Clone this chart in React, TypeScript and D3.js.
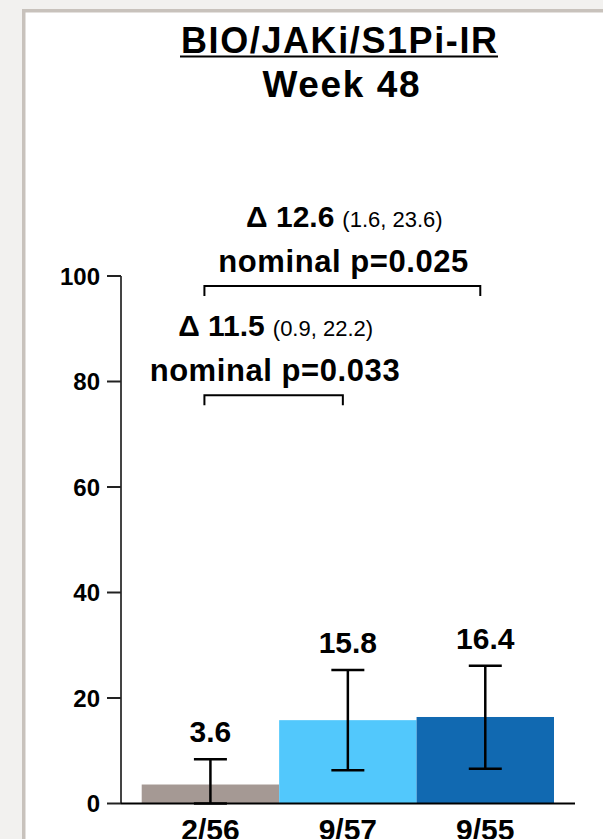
import React from "react";
import * as d3 from "d3";

const categories = ["2/56", "9/57", "9/55"];
const values = [3.6, 15.8, 16.4];
const ciLower = [0, 6.3, 6.6];
const ciUpper = [8.4, 25.3, 26.1];
const barColors = ["#a59994", "#52c8fc", "#1169b1"];
const yTicks = [0, 20, 40, 60, 80, 100];
const compFrom = [0, 0];
const compTo = [2, 1];
const compLevel = [98.1, 77.4];
const compDelta = ["Δ 12.6", "Δ 11.5"];
const compCI = ["(1.6, 23.6)", "(0.9, 22.2)"];
const compP = ["nominal p=0.025", "nominal p=0.033"];
const title1 = "BIO/JAKi/S1Pi-IR";
const title2 = "Week 48";

const W = 603;
const H = 839;
const FONT = "'Liberation Sans', Arial, Helvetica, sans-serif";

export default function App() {
  const x = d3.scaleBand<string>().domain(categories).range([141.7, 554]).padding(0);
  const y = d3.scaleLinear().domain([0, 100]).range([803.5, 276]);
  const cx = (i: number) => (x(categories[i]) as number) + x.bandwidth() / 2;
  const cap = 16.5;

  return (
    <div style={{ position: "absolute", left: 0, top: 0 }}>
      <svg width={W} height={H} style={{ display: "block" }} fontFamily={FONT}>
        <rect x={0} y={0} width={W} height={H} fill="#f2f1ef" />
        <rect x={22} y={9} width={W} height={H} fill="#c8c2bc" />
        <rect x={25.5} y={12.5} width={W} height={H} fill="#ffffff" />

        {/* title */}
        <text
          x={339}
          y={53}
          textAnchor="middle"
          fontSize={36}
          fontWeight="bold"
          fill="#000"
          textLength={316}
          lengthAdjust="spacing"
        >
          {title1}
        </text>
        <line x1={180} x2={498} y1={56.5} y2={56.5} stroke="#000" strokeWidth={2} />
        <text
          x={341}
          y={97}
          textAnchor="middle"
          fontSize={37}
          fontWeight="bold"
          fill="#000"
          textLength={157}
          lengthAdjust="spacing"
        >
          {title2}
        </text>

        {/* bars */}
        {categories.map((c, i) => (
          <rect
            key={c}
            x={x(c)}
            y={y(values[i])}
            width={x.bandwidth()}
            height={y(0) - y(values[i])}
            fill={barColors[i]}
          />
        ))}

        {/* y axis */}
        <line x1={121} x2={121} y1={y(100)} y2={y(0)} stroke="#444" strokeWidth={2} />
        {yTicks.map((t) => (
          <g key={t}>
            <line x1={107} x2={121} y1={y(t)} y2={y(t)} stroke="#222" strokeWidth={2} />
            <text x={100} y={y(t)} dy="0.36em" textAnchor="end" fontSize={24} fontWeight="bold" fill="#000">
              {t}
            </text>
          </g>
        ))}
        {/* x axis */}
        <line x1={121} x2={575} y1={y(0)} y2={y(0)} stroke="#000" strokeWidth={2} />

        {/* error bars */}
        {categories.map((c, i) => (
          <g key={"e" + c} stroke="#000" strokeWidth={2.5}>
            <line x1={cx(i)} x2={cx(i)} y1={y(ciLower[i])} y2={y(ciUpper[i])} />
            <line x1={cx(i) - cap} x2={cx(i) + cap} y1={y(ciUpper[i])} y2={y(ciUpper[i])} />
            <line x1={cx(i) - cap} x2={cx(i) + cap} y1={y(ciLower[i])} y2={y(ciLower[i])} />
          </g>
        ))}

        {/* value labels */}
        {categories.map((c, i) => (
          <text
            key={"v" + c}
            x={cx(i)}
            y={y(ciUpper[i]) - 17}
            textAnchor="middle"
            fontSize={30}
            fontWeight="bold"
            fill="#000"
          >
            {values[i].toFixed(1)}
          </text>
        ))}

        {/* category labels */}
        {categories.map((c, i) => (
          <text key={"c" + c} x={cx(i)} y={y(0) + 36} textAnchor="middle" fontSize={30} fontWeight="bold" fill="#000">
            {c}
          </text>
        ))}

        {/* comparisons */}
        {compFrom.map((f, k) => {
          const x1 = cx(f) - 6;
          const x2 = cx(compTo[k]) - 5;
          const by = y(compLevel[k]);
          const mid = (x1 + x2) / 2;
          return (
            <g key={"cmp" + k}>
              <path
                d={`M${x1},${by + 10}V${by}H${x2}V${by + 10}`}
                fill="none"
                stroke="#000"
                strokeWidth={2}
              />
              <text x={mid + 2} y={by - 59} textAnchor="middle" fill="#000">
                <tspan fontSize={30} fontWeight="bold">{compDelta[k]}</tspan>
                <tspan fontSize={22} dx={8}>{compCI[k]}</tspan>
              </text>
              <text
                x={mid + 1}
                y={by - 14}
                textAnchor="middle"
                fontSize={31}
                fontWeight="bold"
                fill="#000"
                textLength={250}
                lengthAdjust="spacing"
              >
                {compP[k]}
              </text>
            </g>
          );
        })}
      </svg>
    </div>
  );
}
